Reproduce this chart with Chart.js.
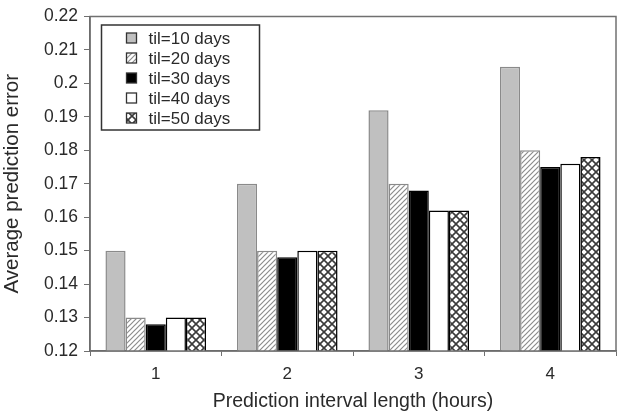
<!DOCTYPE html>
<html>
<head>
<meta charset="utf-8">
<script src="https://cdn.jsdelivr.net/npm/chart.js@4.4.0/dist/chart.umd.min.js"></script>
<style>
  html, body { margin: 0; padding: 0; background: #fff; }
  #wrap { width: 621px; height: 418px; }
</style>
</head>
<body>
<div id="wrap"><canvas id="chart" width="621" height="418"></canvas></div>
<script>
// Data
const categories = ['1', '2', '3', '4'];
const seriesNames = ['til=10 days', 'til=20 days', 'til=30 days', 'til=40 days', 'til=50 days'];
const til10 = [0.150, 0.170, 0.192, 0.205];
const til20 = [0.130, 0.150, 0.170, 0.180];
const til30 = [0.128, 0.148, 0.168, 0.175];
const til40 = [0.130, 0.150, 0.162, 0.176];
const til50 = [0.130, 0.150, 0.162, 0.178];
const yTicks = [0.12, 0.13, 0.14, 0.15, 0.16, 0.17, 0.18, 0.19, 0.2, 0.21, 0.22];

const FONT = '"Liberation Sans", Arial, sans-serif';
const TEXT = '#2a2a2a';

// Fill patterns
function hatchPattern() {
  const c = document.createElement('canvas');
  c.width = c.height = 5;
  const g = c.getContext('2d');
  g.fillStyle = '#fff';
  g.fillRect(0, 0, 5, 5);
  g.strokeStyle = '#8c8c8c';
  g.lineWidth = 1.2;
  g.beginPath();
  g.moveTo(-1, 6); g.lineTo(6, -1);
  g.moveTo(-1, 1); g.lineTo(1, -1);
  g.moveTo(4, 6); g.lineTo(6, 4);
  g.stroke();
  return g.createPattern(c, 'repeat');
}

function crossPattern() {
  const c = document.createElement('canvas');
  c.width = c.height = 8;
  const g = c.getContext('2d');
  g.fillStyle = '#fff';
  g.fillRect(0, 0, 8, 8);
  g.strokeStyle = '#3a3a3a';
  g.lineWidth = 1.6;
  g.beginPath();
  g.moveTo(0, 0); g.lineTo(8, 8);
  g.moveTo(8, 0); g.lineTo(0, 8);
  g.stroke();
  return g.createPattern(c, 'repeat');
}

const fills = ['#c0c0c0', hatchPattern(), '#000000', '#ffffff', crossPattern()];
const borders = ['#8a8a8a', '#8a8a8a', '#000000', '#000000', '#000000'];
const values = [til10, til20, til30, til40, til50];

// Frame around the plot and a boxed legend inside it
const framePlugin = {
  id: 'frameLegend',
  afterDraw(chart) {
    const ctx = chart.ctx;
    const a = chart.chartArea;
    ctx.save();
    ctx.strokeStyle = '#707070';
    ctx.lineWidth = 1.5;
    ctx.strokeRect(a.left, a.top, a.right - a.left, a.bottom - a.top);

    // legend
    const lx = a.left + 11.5, ly = a.top + 8.5;
    ctx.strokeStyle = '#333';
    ctx.lineWidth = 1.5;
    ctx.strokeRect(lx, ly, 158, 105);
    ctx.font = '17px ' + FONT;
    ctx.textBaseline = 'middle';
    chart.data.datasets.forEach((ds, i) => {
      const cy = ly + 13 + i * 20;
      ctx.fillStyle = ds.backgroundColor;
      ctx.fillRect(lx + 25, cy - 5, 10, 10);
      ctx.strokeStyle = '#333';
      ctx.lineWidth = 1.3;
      ctx.strokeRect(lx + 25, cy - 5, 10, 10);
      ctx.fillStyle = TEXT;
      ctx.fillText(ds.label, lx + 47, cy + 1);
    });
    ctx.restore();
  }
};

new Chart(document.getElementById('chart'), {
  type: 'bar',
  data: {
    labels: categories,
    datasets: seriesNames.map((name, i) => ({
      label: name,
      data: values[i],
      backgroundColor: fills[i],
      borderColor: borders[i],
      borderWidth: 1.5,
      borderSkipped: 'bottom',
      categoryPercentage: 0.765,
      barPercentage: 1.0
    }))
  },
  options: {
    responsive: false,
    animation: false,
    events: [],
    layout: { padding: { left: 0, right: 5, top: 13, bottom: 0 } },
    plugins: {
      legend: { display: false },
      tooltip: { enabled: false }
    },
    scales: {
      x: {
        offset: true,
        grid: {
          offset: true,
          drawOnChartArea: false,
          drawTicks: true,
          tickLength: 5,
          color: '#707070'
        },
        border: { color: '#606060', width: 1.5 },
        ticks: { color: TEXT, font: { family: FONT, size: 17 }, padding: 8 },
        title: {
          display: true,
          text: 'Prediction interval length (hours)',
          color: TEXT,
          font: { family: FONT, size: 19.5 },
          padding: { top: 0, bottom: 5 }
        },
        afterFit(s) { s.height = 67; }
      },
      y: {
        min: 0.12,
        max: 0.22,
        afterBuildTicks(s) { s.ticks = yTicks.map(v => ({ value: v })); },
        grid: {
          drawOnChartArea: false,
          drawTicks: true,
          tickLength: 6,
          color: '#707070'
        },
        border: { color: '#606060', width: 1.5 },
        ticks: {
          color: TEXT,
          font: { family: FONT, size: 17.5 },
          padding: 6,
          callback: v => String(Math.round(v * 100) / 100)
        },
        title: {
          display: true,
          text: 'Average prediction error',
          color: TEXT,
          font: { family: FONT, size: 20.5 },
          padding: { top: 0, bottom: 0 }
        },
        afterFit(s) { s.width = 90; }
      }
    }
  },
  plugins: [framePlugin]
});
</script>
</body>
</html>
